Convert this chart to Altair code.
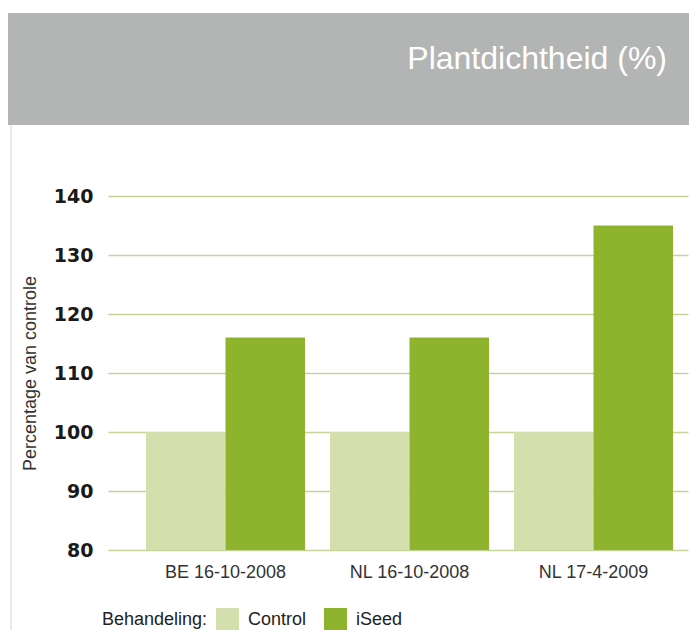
import altair as alt
import pandas as pd

sites = ["BE 16-10-2008", "NL 16-10-2008", "NL 17-4-2009"]
control = [100, 100, 100]
iseed = [116, 116, 135]
groups = ["Control", "iSeed"]
colors = ["#d3dfac", "#8db42c"]
y_ticks = [80, 90, 100, 110, 120, 130, 140]
title_text = "Plantdichtheid (%)"

rows = []
for s, c, i in zip(sites, control, iseed):
    rows.append({"site": s, "Behandeling": "Control", "value": c})
    rows.append({"site": s, "Behandeling": "iSeed", "value": i})
df = pd.DataFrame(rows)

W, H = 580, 354

base = alt.Chart(df)

bars = base.mark_bar(strokeWidth=0).encode(
    x=alt.X("site:N", sort=sites,
            scale=alt.Scale(paddingInner=0.1359, paddingOuter=0.144, align=0.717),
            axis=alt.Axis(title=None, labelAngle=0, labelFont="Liberation Sans",
                          labelFontSize=18, labelColor="#333333", ticks=False,
                          tickSize=0, domain=False, labelPadding=13, grid=False)),
    xOffset=alt.XOffset("Behandeling:N", sort=groups,
                        scale=alt.Scale(paddingInner=0, paddingOuter=0)),
    y=alt.Y("value:Q",
            scale=alt.Scale(domain=[80, 140], zero=False, nice=False),
            axis=alt.Axis(title="Percentage van controle", values=y_ticks,
                          labelFont="DejaVu Sans", labelFontWeight="bold",
                          labelFontSize=19, labelColor="#1a1a1a",
                          labelPadding=15, ticks=False, tickSize=0, domain=False,
                          grid=True, gridColor="#c6d49a", gridWidth=1.5,
                          titleFont="Liberation Sans", titleFontSize=18,
                          titleFontWeight="normal", titleColor="#333333",
                          titleX=-78, titleY=177, titleAngle=-90,
                          titleBaseline="middle", titleAlign="center")),
    y2=alt.datum(80),
    color=alt.Color("Behandeling:N",
                    scale=alt.Scale(domain=groups, range=colors),
                    legend=alt.Legend(orient="none", legendX=-6, legendY=412,
                                      direction="horizontal", titleOrient="left",
                                      title="Behandeling:", titleFont="Liberation Sans",
                                      titleFontSize=18, titleFontWeight="normal",
                                      titleColor="#222222", titlePadding=8,
                                      labelFont="Liberation Sans", labelFontSize=18,
                                      labelColor="#222222", labelOffset=9,
                                      columnPadding=17, symbolType="square",
                                      symbolSize=529, symbolStrokeWidth=0,
                                      padding=0)),
)

one = alt.Data(values=[{"k": 1}])

header = alt.Chart(one).mark_rect(color="#b3b5b4").encode(
    x=alt.value(-100), x2=alt.value(581), y=alt.value(-183), y2=alt.value(-71)
)

border = alt.Chart(one).mark_rule(color="#e2e6d6", strokeWidth=1.5).encode(
    x=alt.value(-97), y=alt.value(-71), y2=alt.value(445)
)

title = alt.Chart(one).mark_text(
    text=title_text, font="Liberation Sans", fontWeight="normal", fontSize=32,
    color="#ffffff", align="right", baseline="alphabetic"
).encode(x=alt.value(559), y=alt.value(-127))

chart = alt.layer(header, border, title, bars).properties(
    width=W, height=H,
    autosize=alt.AutoSizeParams(type="none"),
    padding={"left": 100, "top": 188, "right": 1, "bottom": 80},
    background="#ffffff",
).configure_view(stroke=None)

chart.save("out.html", embed_options={"renderer": "svg", "actions": False})
